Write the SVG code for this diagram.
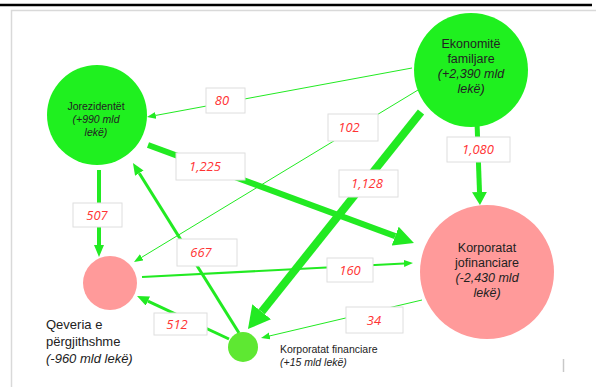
<svg xmlns="http://www.w3.org/2000/svg" width="596" height="387" viewBox="0 0 596 387">
<style>
.frame{fill:none;stroke:#d9d9d9;stroke-width:1.5}
.c{stroke:#22ea22;fill:none;stroke-linecap:butt}
.lb rect{fill:#fff;stroke:#dedede;stroke-width:1}
.lb text{font-family:"Open Sans","Liberation Sans",sans-serif;font-style:italic;font-size:13px;fill:#ff3333;text-anchor:middle}
.nt{font-family:"Liberation Sans","Open Sans",sans-serif;fill:#222;text-anchor:middle}
.it{font-style:italic}
.g{fill:#1ff01f}
.p{fill:#ff9a9a}
</style>
<defs>
<marker id="hS" markerUnits="userSpaceOnUse" markerWidth="10" markerHeight="8" refX="0" refY="3.5" orient="auto"><path d="M0,0 L9,3.5 L0,7 z" fill="#22ea22"/></marker>
<marker id="hM" markerUnits="userSpaceOnUse" markerWidth="13" markerHeight="11" refX="0" refY="5" orient="auto"><path d="M0,0 L12,5 L0,10 z" fill="#22ea22"/></marker>
<marker id="hL" markerUnits="userSpaceOnUse" markerWidth="14" markerHeight="16" refX="0" refY="7.5" orient="auto"><path d="M0,0 L13,7.5 L0,15 z" fill="#22ea22"/></marker>
<marker id="hX" markerUnits="userSpaceOnUse" markerWidth="21" markerHeight="21" refX="0" refY="10" orient="auto"><path d="M0,0 L20,10 L0,20 z" fill="#22ea22"/></marker>
<marker id="hXX" markerUnits="userSpaceOnUse" markerWidth="23" markerHeight="25" refX="0" refY="12" orient="auto"><path d="M0,0 L22,12 L0,24 z" fill="#22ea22"/></marker>
</defs>
<rect width="596" height="387" fill="#fff"/>
<line x1="0" y1="5" x2="592" y2="5" stroke="#000" stroke-width="2.5"/>
<path class="frame" d="M11.5,387 V10.5 H596"/>
<line x1="563.5" y1="359" x2="563.5" y2="372" stroke="#c8c8c8" stroke-width="1.5"/>

<g id="connectors">
<line class="c" x1="412" y1="68" x2="155.8" y2="115.4" stroke-width="1" marker-end="url(#hS)"/>
<line class="c" x1="418" y1="90" x2="141.7" y2="257.3" stroke-width="1" marker-end="url(#hS)"/>
<line class="c" x1="421" y1="112" x2="261.7" y2="311.8" stroke-width="8" marker-end="url(#hXX)"/>
<line class="c" x1="477" y1="122" x2="479.5" y2="192" stroke-width="5" marker-end="url(#hL)"/>
<line class="c" x1="148" y1="145" x2="395.2" y2="236.1" stroke-width="6" marker-end="url(#hX)"/>
<line class="c" x1="99" y1="170" x2="99" y2="245" stroke-width="4" marker-end="url(#hM)"/>
<line class="c" x1="239" y1="333" x2="139.3" y2="173.2" stroke-width="3" marker-end="url(#hM)"/>
<line class="c" x1="142" y1="277" x2="404" y2="263.5" stroke-width="2" marker-end="url(#hS)"/>
<line class="c" x1="229" y1="339" x2="147.9" y2="301.1" stroke-width="3" marker-end="url(#hM)"/>
<line class="c" x1="422" y1="300" x2="269.8" y2="335.9" stroke-width="1" marker-end="url(#hS)"/>
<g class="lb">
<rect x="206" y="88" width="39" height="25"/><text x="222" y="105">80</text>
<rect x="328" y="114" width="50" height="27"/><text x="349" y="132">102</text>
<rect x="339" y="170" width="59" height="27"/><text x="367" y="188">1,128</text>
<rect x="447" y="137" width="63" height="25"/><text x="478" y="154">1,080</text>
<rect x="176" y="153" width="69" height="27"/><text x="205" y="171">1,225</text>
<rect x="73" y="203" width="49" height="24"/><text x="97" y="220">507</text>
<rect x="177" y="239" width="60" height="27"/><text x="201" y="257">667</text>
<rect x="327" y="258" width="46" height="24"/><text x="350" y="275">160</text>
<rect x="154" y="313" width="53" height="22"/><text x="177" y="329">512</text>
<rect x="346" y="307" width="57" height="26"/><text x="374" y="325">34</text>
</g>
</g>

<g id="ekonomite">
<circle class="g" cx="471" cy="70" r="57"/>
<text class="nt" font-size="12.5"><tspan x="471" y="48">Ekonomitë</tspan><tspan x="471" y="63">familjare</tspan><tspan class="it" x="471" y="78">(+2,390 mld</tspan><tspan class="it" x="471" y="93">lekë)</tspan></text>
</g>
<g id="jorezidentet">
<circle class="g" cx="97" cy="115" r="50"/>
<text class="nt" font-size="10.5"><tspan x="96" y="110">Jorezidentët</tspan><tspan class="it" x="96" y="123">(+990 mld</tspan><tspan class="it" x="96" y="136">lekë)</tspan></text>
</g>
<g id="jofinanciare">
<circle class="p" cx="487" cy="272" r="67"/>
<text class="nt" font-size="12.5"><tspan x="487" y="252">Korporatat</tspan><tspan x="487" y="267">jofinanciare</tspan><tspan class="it" x="487" y="282">(-2,430 mld</tspan><tspan class="it" x="487" y="297">lekë)</tspan></text>
</g>
<g id="qeveria">
<circle class="p" cx="110" cy="283" r="27"/>
<text class="nt" font-size="13" style="text-anchor:start"><tspan x="46" y="329">Qeveria e</tspan><tspan x="46" y="346">përgjithshme</tspan><tspan class="it" x="46" y="363">(-960 mld lekë)</tspan></text>
</g>
<g id="financiare">
<circle cx="243" cy="347" r="15" fill="#5ee832"/>
<text class="nt" font-size="10.5" style="text-anchor:start"><tspan x="280" y="353">Korporatat financiare</tspan><tspan class="it" x="280" y="366">(+15 mld lekë)</tspan></text>
</g>
</svg>
